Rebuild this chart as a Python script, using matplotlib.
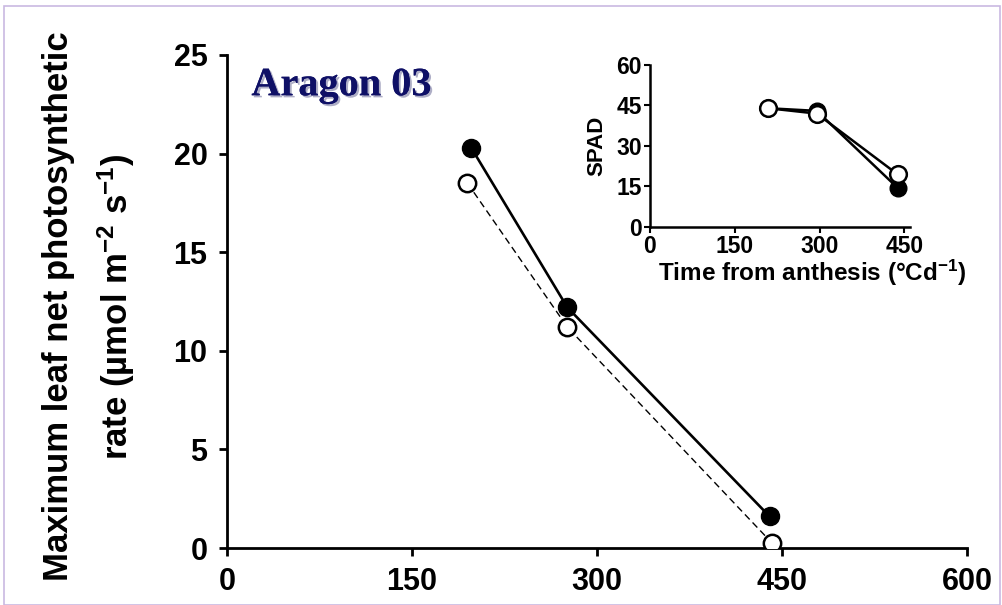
import matplotlib.pyplot as plt
import matplotlib.patheffects as pe
from matplotlib.patches import Rectangle

# main panel: max leaf net photosynthetic rate
days_filled = [198, 276, 440]
rate_filled = [20.3, 12.2, 1.6]
days_open = [195, 276, 442]
rate_open = [18.5, 11.2, 0.25]

# inset: SPAD
spad_days = [208, 295, 438]
spad_filled = [44.0, 43.0, 14.5]
spad_open = [44.0, 42.0, 19.5]

x_ticks = [0, 150, 300, 450, 600]
y_ticks = [0, 5, 10, 15, 20, 25]
inset_x_ticks = [0, 150, 300, 450]
inset_y_ticks = [0, 15, 30, 45, 60]

plt.rcParams['font.family'] = ['Liberation Sans', 'DejaVu Sans']
plt.rcParams['font.weight'] = 'bold'
plt.rcParams['mathtext.default'] = 'regular'

fig = plt.figure(figsize=(10.02, 6.05), dpi=100)
fig.patches.append(Rectangle((0.004, 0.0), 0.994, 0.99, transform=fig.transFigure,
                             fill=False, edgecolor='#c9b9e2', linewidth=1.2))

ax = fig.add_axes([0.2265, 0.0942, 0.7385, 0.815])
ax.plot(days_filled, rate_filled, '-', color='black', lw=1.9,
        marker='o', markersize=13, markerfacecolor='black', markeredgecolor='black', zorder=3)
ax.plot(days_open, rate_open, '--', color='black', lw=1.0, dashes=(5, 3),
        marker='o', markersize=12.5, markerfacecolor='white', markeredgecolor='black',
        markeredgewidth=1.8, zorder=4)
ax.set_xlim(0, 600)
ax.set_ylim(0, 25)
ax.set_xticks(x_ticks)
ax.set_yticks(y_ticks)
ax.spines['top'].set_visible(False)
ax.spines['right'].set_visible(False)
for s in ('left', 'bottom'):
    ax.spines[s].set_linewidth(2)
ax.tick_params(direction='out', width=2, length=6, labelsize=22, pad=8)
for lab in ax.get_xticklabels() + ax.get_yticklabels():
    lab.set_fontweight('bold')
ax.text(-0.186, 0.49, 'Maximum leaf net photosynthetic\nrate (µmol m$^{-2}$ s$^{-1}$)',
        transform=ax.transAxes, rotation=90, ha='center', va='center',
        fontsize=25, fontweight='bold', linespacing=1.65, multialignment='center')
ax.patch.set_alpha(0)

ax.text(0.033, 0.975, 'Aragon 03', transform=ax.transAxes, fontsize=29,
        fontweight='bold', color='#0f1066', family='Liberation Serif', va='top',
        path_effects=[pe.withSimplePatchShadow(offset=(1.5, -1.5), shadow_rgbFace='#9a9ab8',
                                               alpha=0.8), pe.Normal()])

ins = fig.add_axes([0.6487, 0.6248, 0.2595, 0.2678])
ins.plot(spad_days, spad_filled, '-', color='black', lw=1.8,
         marker='o', markersize=12, markerfacecolor='black', markeredgecolor='black', zorder=3)
ins.plot(spad_days, spad_open, '-', color='black', lw=1.8,
         marker='o', markersize=12, markerfacecolor='white', markeredgecolor='black',
         markeredgewidth=1.8, zorder=4)
ins.set_xlim(0, 460)
ins.set_ylim(0, 60)
ins.set_xticks(inset_x_ticks)
ins.set_yticks(inset_y_ticks)
ins.spines['top'].set_visible(False)
ins.spines['right'].set_visible(False)
for s in ('left', 'bottom'):
    ins.spines[s].set_linewidth(1.8)
ins.tick_params(direction='out', width=1.5, length=4, labelsize=16.5, pad=2)
for lab in ins.get_xticklabels() + ins.get_yticklabels():
    lab.set_fontweight('bold')
ins.set_xlabel('Time from anthesis (°Cd$^{-1}$)', fontsize=17.5, fontweight='bold')
ins.xaxis.set_label_coords(0.625, -0.19)
ins.set_ylabel('SPAD', fontsize=16, fontweight='bold', labelpad=6)
ins.patch.set_alpha(0)

plt.savefig('out.png', dpi=100)
